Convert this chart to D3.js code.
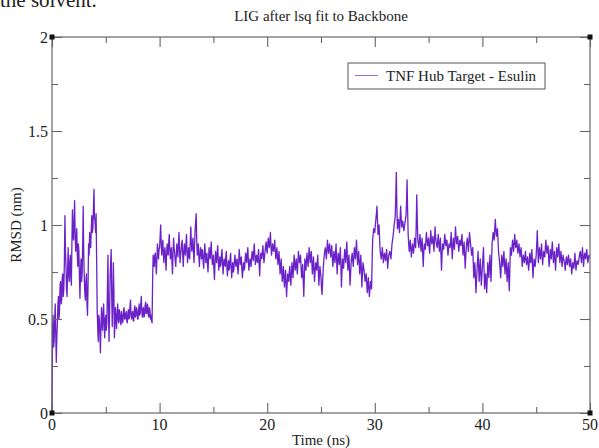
<!DOCTYPE html>
<html>
<head>
<meta charset="utf-8">
<script src="https://cdn.jsdelivr.net/npm/d3@7"></script>
<style>
  html, body { margin: 0; padding: 0; background: #fff; }
  svg { display: block; }
  text { font-family: "Liberation Serif", "Times New Roman", serif; fill: #222; }
</style>
</head>
<body>
<svg id="chart" width="599" height="448"></svg>
<script>
// RMSD trace of the ligand, sampled every 0.05 ns from 0 to 50 ns (20 values per ns per row)
const timeStep = 0.05;
const rmsd = [
  0.00, 0.45, 0.52, 0.35, 0.38, 0.50, 0.58, 0.42, 0.27, 0.40, 0.48, 0.58, 0.62, 0.50, 0.55, 0.68, 0.70, 0.58, 0.60, 0.72,
  0.74, 0.62, 0.66, 0.80, 1.05, 0.86, 0.78, 0.66, 0.62, 0.75, 0.88, 0.74, 0.70, 0.80, 0.84, 0.72, 0.68, 0.90, 1.08, 0.95,
  0.92, 1.02, 1.13, 0.95, 0.86, 0.92, 0.98, 0.84, 0.78, 0.90, 0.86, 0.72, 0.61, 0.75, 0.82, 0.70, 0.74, 0.88, 1.10, 0.85,
  0.72, 0.64, 0.60, 0.70, 0.74, 0.58, 0.52, 0.68, 0.90, 0.84, 0.96, 0.88, 0.88, 0.98, 1.05, 0.96, 0.98, 1.08, 1.19, 1.04,
  1.02, 0.96, 1.06, 0.80, 0.55, 0.45, 0.38, 0.52, 0.50, 0.42, 0.32, 0.46, 0.56, 0.48, 0.44, 0.54, 0.58, 0.46, 0.40, 0.50,
  0.52, 0.44, 0.48, 0.66, 0.84, 0.55, 0.38, 0.52, 0.72, 0.80, 0.87, 0.62, 0.46, 0.58, 0.80, 0.66, 0.40, 0.48, 0.56, 0.50,
  0.45, 0.52, 0.58, 0.50, 0.48, 0.55, 0.53, 0.49, 0.47, 0.54, 0.52, 0.48, 0.49, 0.55, 0.56, 0.50, 0.50, 0.53, 0.54, 0.49,
  0.48, 0.53, 0.55, 0.50, 0.51, 0.57, 0.60, 0.52, 0.50, 0.53, 0.54, 0.49, 0.49, 0.55, 0.57, 0.51, 0.52, 0.56, 0.55, 0.50,
  0.50, 0.55, 0.58, 0.52, 0.53, 0.58, 0.62, 0.54, 0.51, 0.55, 0.56, 0.51, 0.52, 0.57, 0.59, 0.53, 0.53, 0.58, 0.57, 0.52,
  0.51, 0.56, 0.55, 0.50, 0.52, 0.49, 0.48, 0.70, 0.84, 0.80, 0.78, 0.84, 0.85, 0.79, 0.74, 0.82, 0.90, 0.86, 0.82, 0.87,
  0.88, 0.94, 1.00, 0.90, 0.84, 0.89, 0.92, 0.85, 0.80, 0.86, 0.88, 0.82, 0.76, 0.84, 0.90, 0.86, 0.84, 0.91, 0.95, 0.87,
  0.82, 0.86, 0.88, 0.80, 0.74, 0.85, 0.93, 0.88, 0.85, 0.81, 0.78, 0.84, 0.90, 0.86, 0.83, 0.90, 0.96, 0.88, 0.80, 0.84,
  0.87, 0.90, 0.92, 0.84, 0.78, 0.85, 0.90, 0.86, 0.84, 0.90, 0.95, 0.86, 0.80, 0.85, 0.88, 0.83, 0.82, 0.91, 0.99, 0.90,
  0.86, 0.90, 0.93, 0.85, 0.80, 0.89, 0.97, 1.02, 1.06, 0.92, 0.84, 0.88, 0.90, 0.83, 0.78, 0.84, 0.88, 0.85, 0.82, 0.87,
  0.86, 0.80, 0.77, 0.84, 0.90, 0.85, 0.80, 0.84, 0.85, 0.79, 0.75, 0.82, 0.88, 0.84, 0.82, 0.87, 0.91, 0.84, 0.79, 0.82,
  0.84, 0.76, 0.71, 0.80, 0.86, 0.83, 0.80, 0.85, 0.89, 0.82, 0.76, 0.80, 0.83, 0.78, 0.79, 0.84, 0.87, 0.80, 0.74, 0.79,
  0.82, 0.79, 0.78, 0.83, 0.86, 0.78, 0.73, 0.78, 0.81, 0.76, 0.77, 0.82, 0.85, 0.78, 0.72, 0.77, 0.80, 0.75, 0.76, 0.81,
  0.84, 0.80, 0.78, 0.81, 0.82, 0.77, 0.74, 0.80, 0.87, 0.83, 0.79, 0.82, 0.83, 0.76, 0.72, 0.77, 0.80, 0.76, 0.77, 0.82,
  0.85, 0.81, 0.80, 0.85, 0.88, 0.81, 0.76, 0.79, 0.82, 0.80, 0.78, 0.83, 0.86, 0.83, 0.81, 0.86, 0.90, 0.84, 0.79, 0.82,
  0.84, 0.81, 0.80, 0.84, 0.87, 0.79, 0.73, 0.80, 0.85, 0.83, 0.82, 0.86, 0.89, 0.84, 0.80, 0.83, 0.86, 0.89, 0.91, 0.87,
  0.85, 0.90, 0.93, 0.89, 0.88, 0.92, 0.96, 0.89, 0.84, 0.87, 0.90, 0.87, 0.86, 0.89, 0.92, 0.86, 0.82, 0.85, 0.88, 0.83,
  0.79, 0.83, 0.86, 0.79, 0.74, 0.78, 0.82, 0.75, 0.70, 0.74, 0.78, 0.72, 0.67, 0.72, 0.76, 0.69, 0.62, 0.68, 0.74, 0.72,
  0.70, 0.75, 0.78, 0.72, 0.68, 0.74, 0.80, 0.76, 0.72, 0.78, 0.84, 0.80, 0.76, 0.79, 0.82, 0.77, 0.74, 0.80, 0.86, 0.83,
  0.80, 0.82, 0.84, 0.77, 0.72, 0.76, 0.79, 0.70, 0.62, 0.72, 0.82, 0.79, 0.76, 0.81, 0.85, 0.81, 0.78, 0.83, 0.88, 0.84,
  0.80, 0.83, 0.86, 0.80, 0.74, 0.79, 0.83, 0.76, 0.70, 0.75, 0.80, 0.78, 0.76, 0.80, 0.84, 0.76, 0.68, 0.73, 0.78, 0.75,
  0.72, 0.66, 0.63, 0.70, 0.76, 0.80, 0.84, 0.86, 0.88, 0.85, 0.82, 0.87, 0.92, 0.88, 0.85, 0.88, 0.90, 0.86, 0.83, 0.86,
  0.89, 0.83, 0.78, 0.82, 0.86, 0.83, 0.80, 0.85, 0.90, 0.82, 0.74, 0.80, 0.85, 0.82, 0.79, 0.84, 0.88, 0.78, 0.67, 0.75,
  0.82, 0.79, 0.77, 0.82, 0.87, 0.84, 0.80, 0.86, 0.91, 0.83, 0.76, 0.80, 0.84, 0.76, 0.68, 0.74, 0.80, 0.83, 0.85, 0.81,
  0.78, 0.83, 0.88, 0.85, 0.82, 0.87, 0.92, 0.85, 0.79, 0.83, 0.86, 0.80, 0.74, 0.79, 0.84, 0.76, 0.67, 0.74, 0.80, 0.78,
  0.76, 0.73, 0.70, 0.72, 0.74, 0.69, 0.64, 0.68, 0.72, 0.66, 0.62, 0.66, 0.70, 0.68, 0.66, 0.80, 0.92, 0.95, 0.98, 0.97,
  0.96, 1.00, 1.03, 1.06, 1.10, 1.02, 0.95, 0.98, 1.00, 0.92, 0.86, 0.84, 0.82, 0.85, 0.88, 0.84, 0.80, 0.83, 0.85, 0.83,
  0.81, 0.84, 0.87, 0.82, 0.77, 0.81, 0.84, 0.85, 0.86, 0.84, 0.82, 0.86, 0.90, 0.92, 0.94, 0.97, 1.00, 1.02, 1.05, 1.15,
  1.28, 1.10, 0.98, 1.00, 1.03, 0.99, 0.96, 1.03, 1.10, 1.04, 0.99, 1.01, 1.02, 0.99, 0.97, 0.99, 1.01, 1.03, 1.05, 1.12,
  1.24, 1.08, 0.95, 0.90, 0.86, 0.89, 0.92, 0.87, 0.83, 0.87, 0.90, 0.87, 0.85, 0.89, 0.93, 0.90, 0.88, 1.00, 1.16, 1.02,
  0.92, 0.90, 0.88, 0.92, 0.95, 0.90, 0.86, 0.90, 0.93, 0.85, 0.78, 0.85, 0.90, 0.88, 0.87, 0.92, 0.96, 0.92, 0.89, 0.91,
  0.93, 0.88, 0.85, 0.91, 0.97, 0.93, 0.90, 0.92, 0.94, 0.90, 0.86, 0.92, 0.99, 0.94, 0.91, 0.89, 0.88, 0.92, 0.95, 0.90,
  0.86, 0.90, 0.93, 0.84, 0.76, 0.84, 0.90, 0.88, 0.87, 0.91, 0.95, 0.92, 0.89, 0.91, 0.92, 0.88, 0.84, 0.87, 0.90, 0.89,
  0.88, 0.92, 0.96, 0.88, 0.82, 0.88, 0.93, 0.90, 0.87, 0.93, 0.99, 0.94, 0.90, 0.92, 0.94, 0.90, 0.86, 0.89, 0.92, 0.90,
  0.89, 0.92, 0.95, 0.89, 0.84, 0.88, 0.91, 0.84, 0.77, 0.83, 0.88, 0.91, 0.93, 0.89, 0.86, 0.91, 0.96, 0.93, 0.90, 0.87,
  0.84, 0.86, 0.88, 0.80, 0.72, 0.76, 0.80, 0.72, 0.64, 0.70, 0.76, 0.81, 0.86, 0.78, 0.70, 0.76, 0.82, 0.75, 0.68, 0.73,
  0.78, 0.83, 0.88, 0.77, 0.66, 0.70, 0.74, 0.69, 0.64, 0.72, 0.80, 0.76, 0.72, 0.78, 0.84, 0.77, 0.70, 0.80, 0.90, 0.93,
  0.96, 0.94, 0.92, 0.98, 1.03, 0.98, 0.94, 0.96, 0.98, 0.92, 0.86, 0.83, 0.80, 0.76, 0.72, 0.78, 0.84, 0.81, 0.78, 0.82,
  0.86, 0.80, 0.74, 0.78, 0.82, 0.76, 0.70, 0.75, 0.80, 0.72, 0.65, 0.76, 0.88, 0.86, 0.84, 0.88, 0.92, 0.89, 0.86, 0.90,
  0.95, 0.91, 0.88, 0.90, 0.92, 0.88, 0.85, 0.88, 0.90, 0.86, 0.83, 0.86, 0.88, 0.83, 0.78, 0.81, 0.84, 0.82, 0.80, 0.83,
  0.86, 0.82, 0.79, 0.81, 0.83, 0.79, 0.76, 0.80, 0.85, 0.82, 0.80, 0.84, 0.87, 0.79, 0.72, 0.77, 0.82, 0.80, 0.78, 0.81,
  0.84, 0.90, 0.97, 0.88, 0.80, 0.84, 0.88, 0.85, 0.82, 0.86, 0.90, 0.84, 0.79, 0.83, 0.86, 0.84, 0.83, 0.88, 0.92, 0.88,
  0.85, 0.87, 0.89, 0.83, 0.78, 0.82, 0.87, 0.84, 0.82, 0.87, 0.91, 0.85, 0.80, 0.83, 0.86, 0.81, 0.76, 0.82, 0.88, 0.85,
  0.83, 0.87, 0.90, 0.85, 0.80, 0.83, 0.86, 0.82, 0.78, 0.81, 0.84, 0.82, 0.81, 0.79, 0.76, 0.80, 0.83, 0.81, 0.79, 0.82,
  0.84, 0.81, 0.78, 0.80, 0.82, 0.78, 0.74, 0.77, 0.80, 0.78, 0.77, 0.81, 0.85, 0.80, 0.76, 0.79, 0.81, 0.80, 0.79, 0.81,
  0.83, 0.85, 0.86, 0.83, 0.80, 0.84, 0.88, 0.83, 0.78, 0.82, 0.85, 0.83, 0.82, 0.85, 0.87, 0.83, 0.80, 0.82, 0.84, 0.83,
  0.83
];

const xMajorTicks = [0, 10, 20, 30, 40, 50];
const xMinorTicks = [5, 15, 25, 35, 45];
const yMajorTicks = [0, 0.5, 1, 1.5, 2];
const yMinorTicks = [0.25, 0.75, 1.25, 1.75];
const yTickLabels = ["0", "0.5", "1", "1.5", "2"];

const titleText = "LIG after lsq fit to Backbone";
const xLabel = "Time (ns)";
const yLabel = "RMSD (nm)";
const seriesName = "TNF Hub Target - Esulin";
const captionFragment = "the solvent.";

const svg = d3.select("#chart");
const plotLeft = 52, plotRight = 590, plotTop = 37, plotBottom = 413;

const x = d3.scaleLinear().domain([0, 50]).range([plotLeft, plotRight]);
const y = d3.scaleLinear().domain([0, 2]).range([plotBottom, plotTop]);

// tail of the surrounding page's text, running off the top edge
svg.append("text")
  .attr("x", 0).attr("y", 7)
  .attr("font-size", 21)
  .attr("fill", "#111")
  .text(captionFragment);

// title
svg.append("text")
  .attr("x", 321).attr("y", 21)
  .attr("text-anchor", "middle")
  .attr("font-size", 15)
  .text(titleText);

// data line
const line = d3.line()
  .x((d, i) => x(i * timeStep))
  .y(d => y(d));

svg.append("path")
  .datum(rmsd)
  .attr("fill", "none")
  .attr("stroke", "#6a22c8")
  .attr("stroke-width", 1.3)
  .attr("stroke-linejoin", "round")
  .attr("d", line);

// frame
const frameColor = "#666";
svg.append("rect")
  .attr("x", plotLeft).attr("y", plotTop)
  .attr("width", plotRight - plotLeft).attr("height", plotBottom - plotTop)
  .attr("fill", "none")
  .attr("stroke", frameColor)
  .attr("stroke-width", 1.2);

// inward ticks on all four sides, drawn with d3 axes
function addAxis(axisFn, scale, ticks, size, transform) {
  const g = svg.append("g")
    .attr("transform", transform)
    .call(axisFn(scale).tickValues(ticks).tickSize(size).tickFormat(""));
  g.select(".domain").remove();
  g.selectAll(".tick line").attr("stroke", frameColor).attr("stroke-width", 1.1);
  return g;
}
const majorLen = 10, minorLen = 6;
addAxis(d3.axisTop, x, xMajorTicks, majorLen, `translate(0,${plotBottom})`);
addAxis(d3.axisTop, x, xMinorTicks, minorLen, `translate(0,${plotBottom})`);
addAxis(d3.axisBottom, x, xMajorTicks, majorLen, `translate(0,${plotTop})`);
addAxis(d3.axisBottom, x, xMinorTicks, minorLen, `translate(0,${plotTop})`);
addAxis(d3.axisRight, y, yMajorTicks, majorLen, `translate(${plotLeft},0)`);
addAxis(d3.axisRight, y, yMinorTicks, minorLen, `translate(${plotLeft},0)`);
addAxis(d3.axisLeft, y, yMajorTicks, majorLen, `translate(${plotRight},0)`);
addAxis(d3.axisLeft, y, yMinorTicks, minorLen, `translate(${plotRight},0)`);

// tick labels
svg.append("g").selectAll("text")
  .data(xMajorTicks)
  .join("text")
  .attr("x", d => x(d))
  .attr("y", plotBottom + 17)
  .attr("text-anchor", "middle")
  .attr("font-size", 16)
  .text(d => d3.format("d")(d));

svg.append("g").selectAll("text")
  .data(yMajorTicks)
  .join("text")
  .attr("x", plotLeft - 4)
  .attr("y", d => y(d) + 5.5)
  .attr("text-anchor", "end")
  .attr("font-size", 16)
  .text((d, i) => yTickLabels[i]);

// corner markers
const corners = [[0, 0], [0, 2], [50, 2], [50, 0]];
svg.append("g").selectAll("rect")
  .data(corners)
  .join("rect")
  .attr("x", d => x(d[0]) - 2.5)
  .attr("y", d => y(d[1]) - 2.5)
  .attr("width", 5).attr("height", 5)
  .attr("fill", "#111");

// axis labels
svg.append("text")
  .attr("x", 321).attr("y", 445)
  .attr("text-anchor", "middle")
  .attr("font-size", 15)
  .text(xLabel);

svg.append("text")
  .attr("transform", `translate(21,${(plotTop + plotBottom) / 2}) rotate(-90)`)
  .attr("text-anchor", "middle")
  .attr("font-size", 15)
  .text(yLabel);

// legend
const legend = svg.append("g");
legend.append("rect")
  .attr("x", 348).attr("y", 63)
  .attr("width", 197).attr("height", 26)
  .attr("fill", "#fff")
  .attr("stroke", "#555")
  .attr("stroke-width", 1);
legend.append("line")
  .attr("x1", 355).attr("x2", 378)
  .attr("y1", 75.5).attr("y2", 75.5)
  .attr("stroke", "#9a6ee0")
  .attr("stroke-width", 1);
legend.append("text")
  .attr("x", 386).attr("y", 81)
  .attr("font-size", 15)
  .text(seriesName);
</script>
</body>
</html>
